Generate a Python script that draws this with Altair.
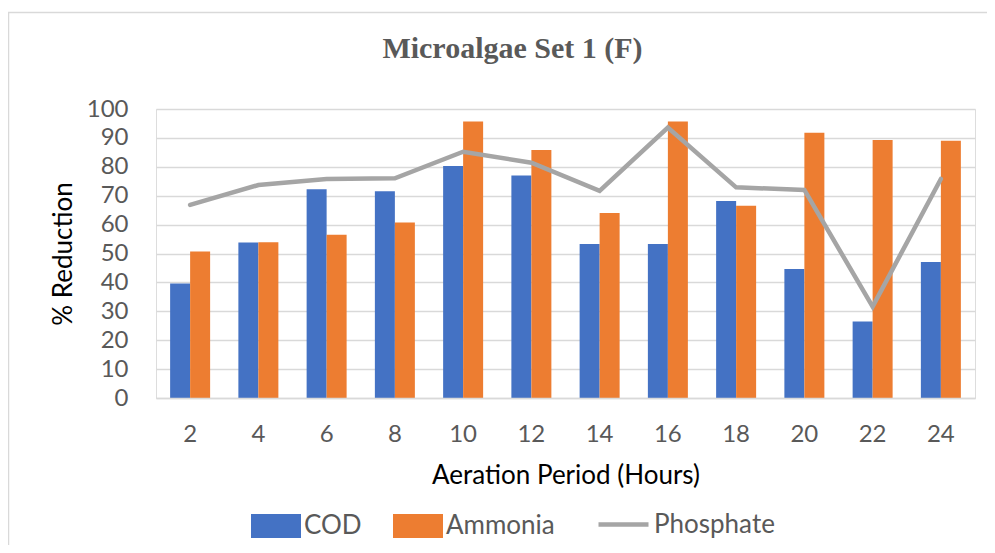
import altair as alt
import pandas as pd

hours = [2, 4, 6, 8, 10, 12, 14, 16, 18, 20, 22, 24]
cod = [39.6, 53.8, 72.2, 71.5, 80.3, 77.0, 53.3, 53.3, 68.2, 44.6, 26.5, 47.1]
ammonia = [50.7, 53.9, 56.5, 60.7, 95.7, 85.8, 64.0, 95.7, 66.5, 91.8, 89.3, 89.0]
phosphate = [66.8, 73.7, 75.8, 76.0, 85.2, 81.4, 71.7, 93.6, 72.9, 72.0, 31.6, 75.8]
y_ticks = [0, 10, 20, 30, 40, 50, 60, 70, 80, 90, 100]

bar_series = ["COD", "Ammonia"]
bar_colors = ["#4472C4", "#ED7D31"]
line_series = ["Phosphate"]
line_colors = ["#A5A5A5"]

bars_df = pd.DataFrame(
    [{"hour": h, "bar_series": "COD", "value": v} for h, v in zip(hours, cod)]
    + [{"hour": h, "bar_series": "Ammonia", "value": v} for h, v in zip(hours, ammonia)]
)
line_df = pd.DataFrame({"hour": hours, "line_series": "Phosphate", "value": phosphate})
frame_df = pd.DataFrame({"k": [0]})

FONT = "Lato"
LABEL_COLOR = "#595959"
GRID = "#D9D9D9"

x_enc = alt.X(
    "hour:O",
    sort=hours,
    title="Aeration Period (Hours)",
    scale=alt.Scale(paddingInner=0.414, paddingOuter=0.207),
    axis=alt.Axis(
        labelAngle=0, labelFont=FONT, labelFontSize=24, labelColor=LABEL_COLOR,
        labelPadding=24, ticks=False, domainColor=GRID, domainWidth=1.5,
        titleFont=FONT, titleFontSize=26, titleFontWeight="normal", titleColor="#000000",
        titlePadding=16, zindex=1,
    ),
)
y_axis = alt.Axis(
    values=y_ticks, tickCount=11, labelOverlap=False, labelSeparation=0,
    labelFont=FONT, labelFontSize=24,
    labelColor=LABEL_COLOR, labelPadding=28, ticks=False, domain=False,
    grid=True, gridColor=GRID, gridWidth=1.3,
    titleFont=FONT, titleFontSize=26, titleFontWeight="normal", titleColor="#000000",
    titlePadding=10,
)
y_enc = alt.Y("value:Q", title="% Reduction", scale=alt.Scale(domain=[0, 100], nice=False), axis=y_axis)

bars = alt.Chart(bars_df).mark_bar().encode(
    x=x_enc,
    y=y_enc,
    xOffset=alt.XOffset("bar_series:N", sort=bar_series, scale=alt.Scale(paddingInner=0, paddingOuter=0)),
    fill=alt.Fill(
        "bar_series:N",
        scale=alt.Scale(domain=bar_series, range=bar_colors),
        legend=alt.Legend(
            title=None, orient="none", direction="horizontal", legendX=95, legendY=392,
            symbolType="M-1,-0.48H1V0.48H-1Z", symbolSize=2500, symbolStrokeWidth=0,
            labelFont=FONT, labelFontSize=26, labelColor=LABEL_COLOR, labelOffset=3,
            columnPadding=31,
        ),
    ),
)

line = alt.Chart(line_df).mark_line(strokeWidth=4.5, strokeCap="round", strokeJoin="miter").encode(
    x=x_enc,
    y=y_enc,
    stroke=alt.Stroke(
        "line_series:N",
        scale=alt.Scale(domain=line_series, range=line_colors),
        legend=alt.Legend(
            title=None, orient="none", direction="horizontal", legendX=440, legendY=388,
            symbolType="stroke", symbolSize=2500, symbolStrokeWidth=4.5,
            labelFont=FONT, labelFontSize=26, labelColor=LABEL_COLOR, labelOffset=3,
        ),
    ),
)

frame = alt.Chart(frame_df).mark_rect(fill=None, stroke="#D9D9D9", strokeWidth=1.5).encode(
    x=alt.value(-147.5), x2=alt.value(1000), y=alt.value(-96.5), y2=alt.value(700)
)

chart = alt.layer(frame, bars, line).properties(
    width=819,
    height=289,
    autosize=alt.AutoSizeParams(type="none"),
    padding={"left": 148, "top": 101, "right": 12, "bottom": 147},
    title=alt.Title(
        "Microalgae Set 1 (F)", font="Liberation Serif", fontSize=30, fontWeight="bold",
        color="#595959", anchor="middle", dx=-53, baseline="alphabetic", offset=-76,
    ),
).configure_view(stroke=None).configure_axisY(labelOverlap=False).configure(background="white")

chart.save("out.html", embed_options={"renderer": "svg", "actions": False})
